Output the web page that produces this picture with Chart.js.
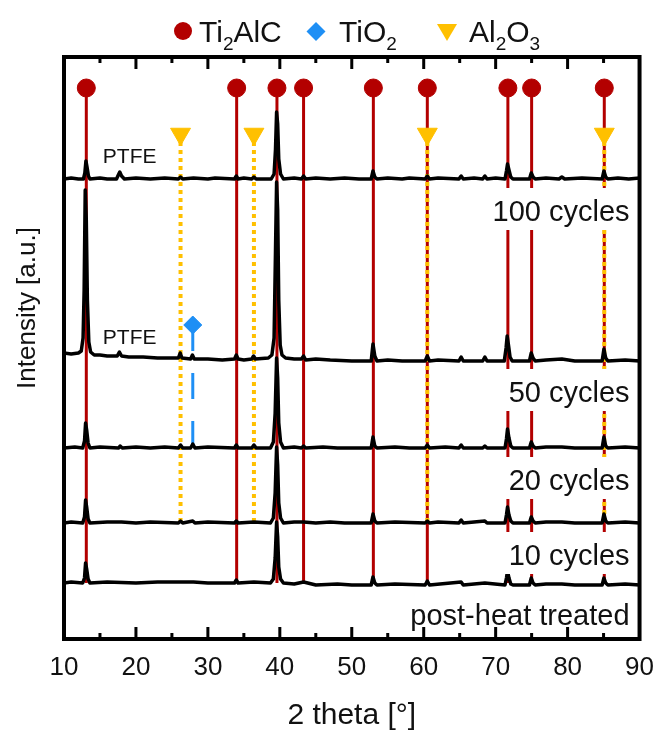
<!DOCTYPE html>
<html>
<head>
<meta charset="utf-8">
<script src="https://cdn.jsdelivr.net/npm/chart.js@4.4.0/dist/chart.umd.min.js"></script>
<style>
  html, body { margin: 0; padding: 0; background: #fff; }
  #wrap { width: 667px; height: 735px; }
</style>
</head>
<body>
<div id="wrap"><canvas id="xrdChart" width="667" height="735"></canvas></div>
<script>
// Samples, top to bottom, and the vertical offset of every pattern (a.u.)
var sampleLabels = ['100 cycles', '50 cycles', '20 cycles', '10 cycles', 'post-heat treated'];
var sampleOffsets = [460, 279, 191, 116, 56];
// patterns that carry a PTFE label
var ptfeSamples = [0, 1];

// XRD patterns as [2 theta, intensity] pairs
var pattern100 = [[10,0],[11,1],[12,0],[12.7,0],[12.9,6],[13.05,18],[13.2,12],[13.4,3],[13.6,0],[15,1],[16,0],
  [17.3,0],[17.55,4],[17.75,7],[18.0,3],[18.4,0],[20,1],[22,0],[24,1],[25.9,0],[26.2,2],[26.5,0],[28,1],[30,0],
  [31,1],[33.7,0],[33.95,3],[34.2,0],[35,1],[36.1,0],[36.4,2],[36.7,0],[38.8,0],[39.2,5],[39.4,30],[39.55,67],
  [39.7,55],[39.85,20],[40.1,5],[40.5,0],[42,1],[43.0,0],[43.3,3],[43.6,0],[45,1],[47,0],[49,1],[51,0],[52.7,0],
  [52.95,8],[53.2,2],[53.5,0],[55,1],[57,0],[58,1],[60.2,0],[60.5,3],[60.8,0],[62,1],[64.9,0],[65.2,3],[65.5,0],
  [67,1],[68.2,0],[68.5,3],[68.8,0],[70,1],[71.3,0],[71.5,8],[71.65,15],[71.85,9],[72.1,2],[72.4,0],[74.7,0],
  [74.95,6],[75.2,2],[75.5,0],[77,1],[78.8,0],[79.2,2],[79.6,0],[82,1],[84.8,0],[85.05,8],[85.3,2],[85.6,0],
  [87,1],[88.5,0],[90,1]];
var pattern50 = [[10,7],[11,6],[12,7],[12.4,9],[12.65,22],[12.8,70],[12.95,170],[13.1,140],[13.25,60],[13.45,18],
  [13.7,8],[14.2,5],[15,5],[16,4],[17.4,4],[17.7,8],[18.0,4],[19,3],[21,3],[23,2],[25,2],[25.9,2],[26.15,7],
  [26.4,2],[27.6,1],[27.85,5],[28.1,1],[30,1],[32,0],[33.7,1],[33.95,5],[34.2,1],[35,0],[36.1,1],[36.35,4],
  [36.6,1],[38.4,2],[38.9,5],[39.2,22],[39.4,110],[39.55,178],[39.7,150],[39.85,60],[40.05,15],[40.3,5],[40.8,2],
  [42,1],[43.0,1],[43.3,4],[43.6,0],[45,1],[47,0],[50,-1],[52.7,-1],[52.95,16],[53.2,4],[53.5,-1],[55,0],[57,-1],
  [60.2,-1],[60.5,4],[60.8,-1],[62,0],[64.9,-1],[65.2,3],[65.5,-1],[68.2,-1],[68.5,3],[68.8,-1],[71.2,-1],
  [71.45,12],[71.6,24],[71.8,14],[72.0,3],[72.3,-1],[74.7,-1],[74.95,7],[75.2,2],[75.5,-1],[77,0],[79.2,1],
  [81,-1],[84.8,-1],[85.05,11],[85.3,2],[85.6,-1],[88,0],[90,-1]];
var pattern20 = [[10,0],[11.5,1],[12.6,0],[12.85,7],[13.0,25],[13.15,18],[13.35,5],[13.6,0],[15,1],[17.6,0],
  [17.8,2],[18.1,0],[20,1],[22,0],[24,1],[25.9,0],[26.2,3],[26.5,0],[27.6,0],[27.9,4],[28.2,0],[30,1],[33.7,0],
  [33.95,3],[34.2,0],[36.1,0],[36.4,3],[36.7,0],[38.7,0],[39.1,6],[39.35,35],[39.55,90],[39.7,70],[39.85,25],
  [40.1,6],[40.5,0],[42,1],[43.0,0],[43.3,2],[43.6,0],[46,1],[48,0],[52.7,0],[52.95,11],[53.2,2],[53.5,0],[56,1],
  [58,0],[60.2,0],[60.5,3],[60.8,0],[63,1],[64.9,0],[65.2,3],[65.5,0],[68.2,0],[68.5,2],[68.8,0],[71.3,0],
  [71.5,9],[71.65,19],[71.85,10],[72.1,2],[72.4,0],[74.7,0],[74.95,6],[75.2,2],[75.5,0],[77,1],[79.2,1],[81,0],
  [84.8,0],[85.05,11],[85.3,2],[85.6,0],[88,1],[90,0]];
var pattern10 = [[10,0],[11,1],[12.6,0],[12.85,6],[13.0,23],[13.15,16],[13.35,4],[13.6,0],[16,1],[18,1],[20,0],
  [22,1],[25.9,0],[26.2,2],[26.5,0],[27.9,2],[28.2,0],[30,1],[33.7,0],[33.95,2],[34.2,0],[36.4,1],[38.7,0],
  [39.1,5],[39.35,30],[39.55,76],[39.7,58],[39.85,20],[40.1,5],[40.5,0],[42,1],[43.3,1],[45,0],[47,1],[49,0],
  [52.7,0],[52.95,9],[53.2,2],[53.5,0],[56,1],[60.2,0],[60.5,2],[60.8,0],[62,1],[64.9,0],[65.2,3],[65.5,0],
  [68.5,2],[68.8,0],[71.3,0],[71.5,8],[71.65,16],[71.85,8],[72.1,2],[72.4,0],[74.7,0],[74.95,6],[75.2,2],
  [75.5,0],[77,1],[79.2,1],[81,0],[84.8,0],[85.05,9],[85.3,2],[85.6,0],[88,1],[90,0]];
var patternPost = [[10,0],[11,1],[12.6,0],[12.85,5],[13.0,20],[13.15,14],[13.35,4],[13.6,0],[16,1],[20,0],[23,1],
  [26.2,1],[28,1],[30,0],[33.7,0],[33.95,3],[34.2,0],[36.4,1],[38.7,0],[39.1,4],[39.35,25],[39.55,61],[39.7,46],
  [39.85,16],[40.1,4],[40.5,0],[42,-1],[43.3,1],[45,-2],[48,-1],[50,-2],[52.7,-2],[52.95,6],[53.2,0],[53.5,-2],
  [56,-1],[60.2,-2],[60.5,2],[60.8,-2],[65.2,1],[65.5,-2],[68.5,0],[71.3,-2],[71.5,5],[71.65,12],[71.85,5],
  [72.1,-1],[72.4,-2],[74.7,-2],[74.95,5],[75.2,0],[75.5,-2],[77,-1],[79.2,-1],[81,-2],[84.8,-2],[85.05,5],
  [85.3,0],[85.6,-2],[88,-1],[90,-2]];
var patterns = [pattern100, pattern50, pattern20, pattern10, patternPost];

// Reference peak positions (2 theta) and the intensity range of each stick [marker, foot]
var ti2alcPeaks = [13.1, 34.0, 39.6, 43.3, 53.0, 60.5, 71.7, 75.0, 85.1];
var tio2Peaks = [27.9];
var al2o3Peaks = [26.2, 36.4, 60.5, 85.1];
var ti2alcSpan = [551, 56];
var tio2Span = [314, 191];
var al2o3Span = [505, 116];

// Axis range
var xMin = 10, xMax = 90, xStep = 10, xMinorStep = 5;
var yMin = 0, yMax = 582;

var RED = '#b30000', BLUE = '#1e8ff5', GOLD = '#ffc000';
var FONT = "'Liberation Sans', Arial, sans-serif";

var datasets = [];

// Black measured patterns on top of everything
patterns.forEach(function(p, i) {
    datasets.push({
        label: sampleLabels[i],
        data: p.map(function(q) { return {x: q[0], y: q[1] + sampleOffsets[i]}; }),
        borderColor: '#000',
        borderWidth: 3.5,
        borderJoinStyle: 'round',
        pointRadius: 0,
        order: 0
    });
});

// One vertical stick per reference peak, marker at its top end
function addSticks(peaks, span, color, style, radius, rotation, dash, width, order) {
    peaks.forEach(function(pos) {
        datasets.push({
            data: [{x: pos, y: span[0]}, {x: pos, y: span[1]}],
            borderColor: color,
            borderWidth: width,
            borderDash: dash,
            pointStyle: style,
            rotation: rotation,
            pointRadius: [radius, 0],
            pointBackgroundColor: color,
            pointBorderColor: color,
            pointBorderWidth: 1,
            order: order
        });
    });
}
addSticks(al2o3Peaks, al2o3Span, GOLD, 'triangle', 11.5, 180, [4, 4], 4, 1);
addSticks(tio2Peaks, tio2Span, BLUE, 'rectRot', 9, 0, [26, 22], 3, 2);
addSticks(ti2alcPeaks, ti2alcSpan, RED, 'circle', 9, 0, [], 3, 3);

// Write a formula like Ti2AlC with lowered small digits
function drawFormula(ctx, parts, x, y, size) {
    ctx.textAlign = 'left';
    ctx.textBaseline = 'alphabetic';
    parts.forEach(function(part, k) {
        var sub = k % 2 === 1;
        ctx.font = (sub ? Math.round(size * 0.64) : size) + 'px ' + FONT;
        ctx.fillText(part, x, sub ? y + 8 : y);
        x += ctx.measureText(part).width;
    });
}

var decorations = {
    id: 'decorations',
    beforeDraw: function(chart) {
        var ctx = chart.ctx;
        ctx.save();
        ctx.fillStyle = '#fff';
        ctx.fillRect(0, 0, chart.width, chart.height);
        ctx.restore();
    },
    afterDatasetsDraw: function(chart) {
        var ctx = chart.ctx, area = chart.chartArea;
        var xs = chart.scales.x, ys = chart.scales.y;
        ctx.save();

        // sample labels on white boxes below each pattern
        ctx.font = '29px ' + FONT;
        sampleLabels.forEach(function(name, i) {
            var base = ys.getPixelForValue(sampleOffsets[i]) + 42;
            var w = ctx.measureText(name).width;
            var right = area.right - 10;
            ctx.fillStyle = '#fff';
            ctx.fillRect(right - w - 6, base - 33, w + 12, 42);
            ctx.fillStyle = '#111';
            ctx.textAlign = 'right';
            ctx.textBaseline = 'alphabetic';
            ctx.fillText(name, right, base);
        });

        // PTFE notes
        ctx.font = '21px ' + FONT;
        ctx.textAlign = 'left';
        ptfeSamples.forEach(function(i) {
            ctx.fillStyle = '#111';
            ctx.fillText('PTFE', xs.getPixelForValue(15.4), ys.getPixelForValue(sampleOffsets[i]) - 16);
        });

        // frame and inward ticks on top and bottom
        ctx.strokeStyle = '#000';
        ctx.lineWidth = 4;
        ctx.strokeRect(area.left, area.top, area.right - area.left, area.bottom - area.top);
        ctx.lineWidth = 3;
        for (var v = xMin + xMinorStep; v < xMax; v += xMinorStep) {
            var px = xs.getPixelForValue(v);
            var len = (v % xStep === 0) ? 12 : 6;
            ctx.beginPath();
            ctx.moveTo(px, area.bottom);
            ctx.lineTo(px, area.bottom - len);
            ctx.moveTo(px, area.top);
            ctx.lineTo(px, area.top + len);
            ctx.stroke();
        }

        // legend
        ctx.fillStyle = RED;
        ctx.beginPath();
        ctx.arc(183, 31, 9, 0, Math.PI * 2);
        ctx.fill();
        ctx.fillStyle = BLUE;
        ctx.beginPath();
        ctx.moveTo(316, 22); ctx.lineTo(325.5, 31.5); ctx.lineTo(316, 41); ctx.lineTo(306.5, 31.5);
        ctx.closePath();
        ctx.fill();
        ctx.fillStyle = GOLD;
        ctx.beginPath();
        ctx.moveTo(437, 24); ctx.lineTo(457, 24); ctx.lineTo(447, 41);
        ctx.closePath();
        ctx.fill();
        ctx.fillStyle = '#111';
        drawFormula(ctx, ['Ti', '2', 'AlC'], 199, 42, 30);
        drawFormula(ctx, ['TiO', '2'], 339, 42, 30);
        drawFormula(ctx, ['Al', '2', 'O', '3'], 469, 42, 30);

        // y axis title, drawn by hand because it sits above the centre
        ctx.save();
        ctx.translate(28, 308);
        ctx.rotate(-Math.PI / 2);
        ctx.font = '26px ' + FONT;
        ctx.textAlign = 'center';
        ctx.textBaseline = 'middle';
        ctx.fillStyle = '#111';
        ctx.fillText('Intensity [a.u.]', 0, 0);
        ctx.restore();

        ctx.restore();
    }
};

var chart = new Chart(document.getElementById('xrdChart').getContext('2d'), {
    type: 'line',
    data: { datasets: datasets },
    options: {
        responsive: false,
        animation: false,
        devicePixelRatio: 1,
        layout: { padding: { left: 64, right: 19, top: 57, bottom: 0 } },
        plugins: { legend: { display: false }, tooltip: { enabled: false } },
        elements: { line: { tension: 0 } },
        scales: {
            x: {
                type: 'linear',
                min: xMin,
                max: xMax,
                grid: { display: false, drawTicks: false },
                border: { display: false },
                ticks: {
                    stepSize: xStep,
                    autoSkip: false,
                    maxRotation: 0,
                    padding: 13,
                    color: '#111',
                    font: { family: FONT, size: 26 }
                },
                title: {
                    display: true,
                    text: '2 theta [°]',
                    color: '#111',
                    font: { family: FONT, size: 30 },
                    padding: { top: 0, bottom: 1 }
                },
                afterFit: function(scale) { scale.height = 96; }
            },
            y: {
                type: 'linear',
                min: yMin,
                max: yMax,
                display: false
            }
        }
    },
    plugins: [decorations]
});
</script>
</body>
</html>
